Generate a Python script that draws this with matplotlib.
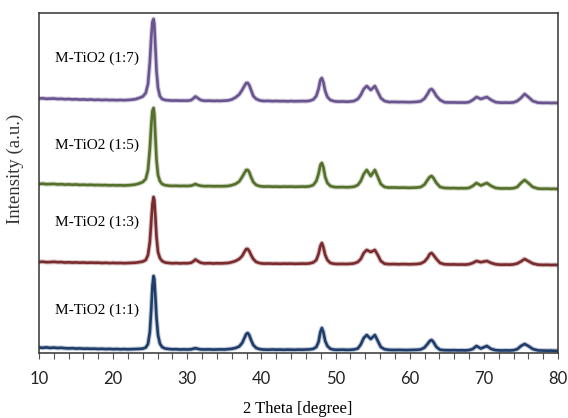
import matplotlib
matplotlib.use("Agg")
import matplotlib.pyplot as plt
from matplotlib.ticker import MultipleLocator

# 2-theta grid (degrees), denser around the reflections
two_theta = (
    [10, 10.5, 11, 11.5, 12, 12.5, 13, 13.5, 14, 14.5, 15, 15.5, 16, 16.5, 17,
     17.5, 18, 18.5, 19, 19.5, 20, 20.5, 21, 21.5, 22, 22.5, 23, 23.5, 24]
    + [24.4, 24.7, 24.95, 25.15, 25.3, 25.45, 25.55, 25.7, 25.85, 26.05, 26.3, 26.6, 27.0]
    + [27.5, 28, 28.5, 29, 29.5, 30, 30.5]
    + [30.8, 31.1, 31.4, 31.8]
    + [32.3, 33, 33.5, 34, 34.5, 35, 35.5, 36, 36.5, 37]
    + [37.4, 37.7, 37.95, 38.15, 38.35, 38.6, 38.9, 39.3, 39.8]
    + [40.3, 41, 41.5, 42, 42.5, 43, 43.5, 44, 44.5, 45, 45.5, 46, 46.5, 47]
    + [47.4, 47.7, 47.95, 48.15, 48.35, 48.6, 48.9, 49.3, 49.8]
    + [50.3, 51, 51.5, 52, 52.5, 53]
    + [53.4, 53.8, 54.2, 54.75, 55.3, 55.7, 56.1, 56.6]
    + [57.2, 58, 58.5, 59, 59.5, 60, 60.5, 61, 61.5, 62]
    + [62.4, 62.7, 62.95, 63.2, 63.6, 64.1]
    + [64.7, 65.5, 66, 66.5, 67, 67.5, 68]
    + [68.5, 69.0, 69.6, 70.4, 71.0, 71.6]
    + [72.3, 73, 73.5, 74, 74.5]
    + [75.0, 75.5, 76.0, 76.6]
    + [77.3, 78, 78.5, 79, 79.5, 80]
)

# stacked intensities (a.u., offsets included)
i_11 = (
    [5.5, 5.2, 5.6, 5.1, 5.4, 5.0, 5.2, 4.8, 4.6, 4.8, 4.4, 4.6, 4.3, 4.4, 4.2, 4.3,
     4.0, 4.2, 3.9, 4.1, 3.8, 4.0, 3.7, 3.9, 3.7, 3.8, 3.9, 4.1, 4.4]
    + [5.5, 9, 21, 45, 67, 77, 74, 56, 35, 18, 9.5, 6, 4.5]
    + [4.0, 3.7, 3.8, 3.5, 3.6, 3.5, 3.7]
    + [4.3, 4.8, 4.2, 3.6]
    + [3.5, 3.6, 3.4, 3.5, 3.6, 3.5, 3.8, 4.2, 5.0, 6.5]
    + [10, 15, 19, 20, 18, 13, 8, 5, 3.8]
    + [3.4, 3.3, 3.5, 3.3, 3.4, 3.2, 3.4, 3.3, 3.2, 3.4, 3.3, 3.5, 3.6, 4.2]
    + [6, 11, 21, 25, 21, 12, 7, 4.2, 3.3]
    + [3.2, 3.3, 3.1, 3.2, 3.5, 4.5]
    + [8.5, 15, 18, 14, 18, 12, 6, 3.8]
    + [3.1, 3.0, 3.1, 3.0, 2.9, 3.0, 3.1, 3.2, 3.6, 5.5]
    + [9, 12, 13, 11, 6, 3.2]
    + [2.8, 2.7, 2.8, 2.6, 2.7, 2.6, 2.9]
    + [4, 7, 4.5, 7, 4, 2.8]
    + [2.5, 2.6, 2.5, 2.8, 3.8]
    + [7, 9, 7, 4]
    + [2.6, 2.4, 2.3, 2.4, 2.2, 2.2]
)

i_13 = (
    [91.0, 91.3, 90.8, 90.9, 91.2, 90.8, 90.9, 90.5, 90.7, 90.4, 90.6, 90.3, 90.5,
     90.2, 90.4, 90.2, 90.3, 90.0, 90.2, 89.9, 90.1, 89.9, 90.0, 89.8, 90.0, 90.1,
     90.3, 90.8, 91.5]
    + [93, 98, 111, 133, 149, 156, 153, 136, 116, 101, 95, 92, 90.5]
    + [90.0, 89.7, 89.9, 89.6, 89.8, 89.7, 90.2]
    + [91.5, 93.5, 92, 90.3]
    + [89.6, 89.8, 89.5, 89.7, 89.6, 89.8, 90.0, 90.8, 92.0, 94.0]
    + [97, 101, 104, 104, 102, 98, 94, 91, 89.8]
    + [89.4, 89.5, 89.3, 89.4, 89.2, 89.4, 89.3, 89.4, 89.2, 89.3, 89.4, 89.3, 89.6, 90.6]
    + [93, 99, 107, 110, 106, 98, 93, 90, 89.2]
    + [89.0, 89.1, 89.0, 89.2, 89.6, 91]
    + [94, 100, 103, 101, 103, 98, 92, 89.3]
    + [88.8, 88.9, 88.7, 88.9, 88.8, 88.7, 88.9, 89.0, 89.5, 91.5]
    + [95, 99, 100, 98, 94, 90]
    + [88.7, 88.5, 88.6, 88.4, 88.5, 88.4, 88.8]
    + [90, 92, 90.8, 92, 90, 88.7]
    + [88.3, 88.4, 88.3, 88.6, 89.5]
    + [91.5, 94, 92, 89.5]
    + [88.3, 88.1, 88.2, 88.0, 88.1, 88.0]
)

i_15 = (
    [169.0, 169.3, 168.8, 168.9, 169.1, 168.6, 168.8, 168.4, 168.6, 168.3, 168.5,
     168.1, 168.3, 168.0, 168.2, 167.9, 168.0, 167.8, 167.9, 167.6, 167.8, 167.6,
     167.7, 167.5, 167.7, 168.0, 168.5, 169.5, 171]
    + [174, 183, 204, 229, 242, 245, 239, 216, 193, 178, 172, 169, 167.8]
    + [167.3, 167.1, 167.2, 167.0, 167.1, 167.0, 167.3]
    + [168, 169, 168, 167.2]
    + [166.8, 166.9, 166.7, 166.8, 166.7, 166.9, 167.0, 167.8, 169.0, 171.5]
    + [176, 180, 183, 183, 181, 176, 171, 168, 166.8]
    + [166.4, 166.5, 166.3, 166.4, 166.2, 166.4, 166.3, 166.4, 166.2, 166.3, 166.4,
       166.3, 166.7, 168]
    + [172, 179, 188, 190, 186, 176, 170, 167, 166]
    + [165.8, 165.9, 165.7, 165.9, 166.3, 168]
    + [172, 179, 183, 177, 183, 176, 169, 166]
    + [165.4, 165.5, 165.3, 165.4, 165.3, 165.2, 165.4, 165.5, 166.0, 168.5]
    + [173, 176, 177, 175, 170, 166]
    + [165.0, 164.8, 164.9, 164.7, 164.8, 164.7, 165.1]
    + [167, 170, 167.5, 170, 167, 165]
    + [164.5, 164.6, 164.5, 164.8, 166]
    + [170, 173, 170, 166]
    + [164.4, 164.2, 164.3, 164.1, 164.2, 164.0]
)

i_17 = (
    [254.5, 254.7, 254.2, 254.3, 254.5, 254.0, 254.2, 253.8, 254.0, 253.6, 253.8,
     253.4, 253.6, 253.3, 253.5, 253.1, 253.3, 253.0, 253.2, 252.9, 253.0, 252.8,
     253.0, 252.8, 253.0, 253.3, 253.8, 255.0, 256.5]
    + [260, 269, 291, 317, 331, 334, 329, 306, 282, 265, 257, 254, 253]
    + [252.6, 252.4, 252.5, 252.3, 252.4, 252.3, 252.8]
    + [254.5, 256.5, 255, 253]
    + [252.2, 252.3, 252.1, 252.2, 252.1, 252.3, 252.6, 253.5, 255.5, 258.5]
    + [263, 267, 270, 270, 268, 263, 257, 254, 252.5]
    + [252.0, 252.1, 251.8, 252.0, 251.8, 251.9, 251.7, 251.9, 251.7, 251.8, 251.9,
       251.8, 252.2, 253.5]
    + [257, 264, 273, 275, 271, 262, 256, 253, 251.8]
    + [251.4, 251.5, 251.3, 251.5, 252.0, 254]
    + [258, 264, 267, 263, 267, 261, 255, 252]
    + [251.0, 251.1, 250.9, 251.0, 250.9, 250.8, 251.0, 251.2, 251.8, 254.5]
    + [259, 263, 264, 262, 257, 253]
    + [250.7, 250.5, 250.6, 250.4, 250.5, 250.4, 250.9]
    + [253, 256, 254, 256, 253, 250.8]
    + [250.3, 250.4, 250.3, 250.6, 252]
    + [255, 259, 256, 252]
    + [250.3, 250.1, 250.2, 250.0, 250.1, 250.0]
)

labels = ["M-TiO2 (1:1)", "M-TiO2 (1:3)", "M-TiO2 (1:5)", "M-TiO2 (1:7)"]
label_y = [43, 131, 208, 295]
colors = ["#1f3d6b", "#7a2b2e", "#55702b", "#6a5490"]

series = [i_11, i_13, i_15, i_17]
for s in series:
    assert len(s) == len(two_theta), len(s)

fig = plt.figure(figsize=(5.68, 4.18), dpi=100)
ax = fig.add_axes([39 / 568, 65 / 418, 519 / 568, 340 / 418])

for s, c in zip(series, colors):
    # soft halo imitates the noisy, fuzzy trace of the scan
    ax.plot(two_theta, s, color=c, lw=3.4, alpha=0.3, solid_joinstyle="round")
    ax.plot(two_theta, s, color=c, lw=1.9, solid_joinstyle="round")

serif = ["Liberation Serif", "DejaVu Serif"]
for lab, y in zip(labels, label_y):
    ax.text(12.2, y, lab, family=serif, fontsize=11, ha="left", va="center")

ax.set_xlim(10, 80)
ax.set_ylim(0, 340)
ax.set_yticks([])
ax.xaxis.set_major_locator(MultipleLocator(10))
ax.xaxis.set_minor_locator(MultipleLocator(2))
ax.tick_params(axis="x", which="both", direction="out", length=4, width=0.8,
               color="#555555", pad=9)
for t in ax.get_xticklabels():
    t.set_family(["Lato", "DejaVu Sans"])
    t.set_fontsize(12)
    t.set_color("#222222")
for sp in ax.spines.values():
    sp.set_color("#333333")
    sp.set_linewidth(1.1)

fig.text(298 / 568, 1 - 409 / 418, "2 Theta [degree]", family=serif, fontsize=12,
         ha="center", va="center")
fig.text(15 / 568, 1 - 169 / 418, "Intensity (a.u.)", family=serif, fontsize=13.5,
         rotation=90, ha="center", va="center", color="#333333")

fig.savefig("out.png", dpi=100)
